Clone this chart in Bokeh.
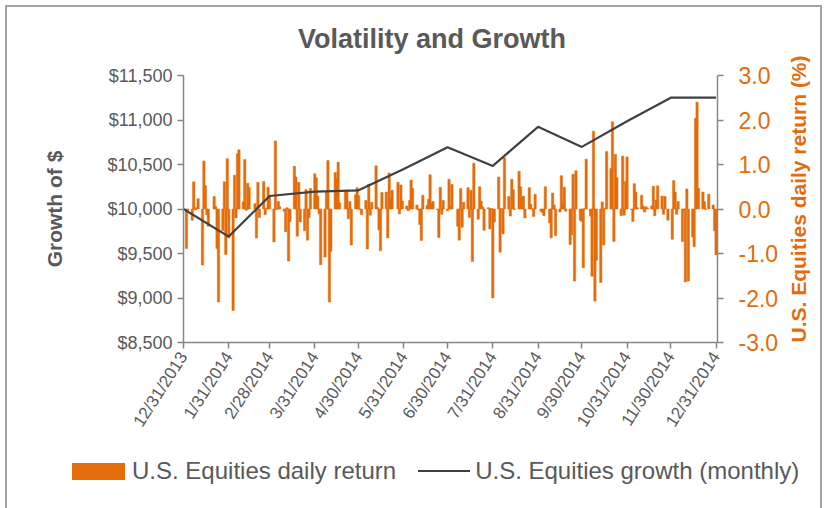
import math
import pandas as pd
from bokeh.plotting import figure
from bokeh.layouts import column
from bokeh.models import (Range1d, LinearAxis, FixedTicker, NumeralTickFormatter,
                          ColumnDataSource, Div)
from bokeh.embed import file_html
from bokeh.resources import INLINE

# ---------------- data ----------------
days_jan = [2, 3, 6, 7, 8, 9, 10, 13, 14, 15, 16, 17, 21, 22, 23, 24, 27, 28, 29, 30, 31]
ret_jan = [-0.89, -0.03, -0.25, 0.61, -0.02, 0.03, 0.23, -1.26, 1.08, 0.52, -0.13, -0.39,
           0.28, 0.06, -0.89, -2.09, -0.49, 0.61, -1.02, 1.13, -0.65]
days_feb = [3, 4, 5, 6, 7, 10, 11, 12, 13, 14, 18, 19, 20, 21, 24, 25, 26, 27, 28]
ret_feb = [-2.28, 0.76, -0.20, 1.24, 1.33, 0.16, 1.11, -0.03, 0.58, 0.48, 0.12, -0.65,
           0.60, -0.19, 0.62, -0.13, 0.01, 0.49, 0.28]
days_mar = [3, 4, 5, 6, 7, 10, 11, 12, 13, 14, 17, 18, 19, 20, 21, 24, 25, 26, 27, 28, 31]
ret_mar = [-0.74, 1.53, -0.01, 0.17, 0.05, -0.05, -0.51, 0.03, -1.17, -0.28, 0.96, 0.72,
           -0.61, 0.60, -0.29, -0.49, 0.44, -0.70, -0.19, 0.46, 0.79]
days_apr = [1, 2, 3, 4, 7, 8, 9, 10, 11, 14, 15, 16, 17, 21, 22, 23, 24, 25, 28, 29, 30]
ret_apr = [0.70, 0.29, -0.11, -1.25, -1.08, 0.38, 1.09, -2.09, -0.95, 0.82, 0.68, 1.05,
           0.14, 0.38, 0.41, -0.22, 0.17, -0.81, 0.32, 0.48, 0.30]
days_may = [1, 2, 5, 6, 7, 8, 9, 12, 13, 14, 15, 16, 19, 20, 21, 22, 23, 27, 28, 29, 30]
ret_may = [-0.01, -0.13, 0.19, -0.90, 0.56, -0.14, 0.15, 0.97, 0.04, -0.47, -0.94, 0.37,
           0.38, -0.65, 0.81, 0.24, 0.42, 0.60, -0.11, 0.54, 0.18]
days_jun = [2, 3, 4, 5, 6, 9, 10, 11, 12, 13, 16, 17, 18, 19, 20, 23, 24, 25, 26, 27, 30]
ret_jun = [0.07, -0.04, 0.19, 0.65, 0.46, 0.09, -0.02, -0.35, -0.71, 0.31, 0.08, 0.22,
           0.77, 0.13, 0.17, -0.01, -0.64, 0.49, -0.12, 0.19, -0.04]
days_jul = [1, 2, 3, 7, 8, 9, 10, 11, 14, 15, 16, 17, 18, 21, 22, 23, 24, 25, 28, 29, 30, 31]
ret_jul = [0.67, 0.07, 0.55, -0.39, -0.70, 0.46, -0.41, 0.15, 0.48, -0.19, 0.42, -1.18,
           1.03, -0.23, 0.50, 0.18, 0.05, -0.48, 0.03, -0.45, 0.01, -2.00]
days_aug = [1, 4, 5, 6, 7, 8, 11, 12, 13, 14, 15, 18, 19, 20, 21, 22, 25, 26, 27, 28, 29]
ret_aug = [-0.29, 0.72, -0.97, 0.01, -0.56, 1.15, 0.28, -0.16, 0.67, 0.43, -0.01, 0.85,
           0.50, 0.25, 0.29, -0.20, 0.48, 0.11, 0.01, -0.17, 0.33]
days_sep = [2, 3, 4, 5, 8, 9, 10, 11, 12, 15, 16, 17, 18, 19, 22, 23, 24, 25, 26, 29, 30]
ret_sep = [-0.05, -0.08, -0.15, 0.50, -0.31, -0.65, 0.36, 0.09, -0.60, -0.07, 0.75, 0.13,
           0.49, -0.05, -0.80, -0.58, 0.78, -1.62, 0.86, -0.25, -0.28]
days_oct = [1, 2, 3, 6, 7, 8, 9, 10, 13, 14, 15, 16, 17, 20, 21, 22, 23, 24, 27, 28, 29, 30, 31]
ret_oct = [-1.32, 0.01, 1.12, -0.16, -1.51, 1.75, -2.07, -1.15, -1.65, 0.16, -0.81, 0.01,
           1.29, 0.91, 1.96, -0.73, 1.23, 0.71, -0.15, 1.19, -0.14, 0.62, 1.17]
days_nov = [3, 4, 5, 6, 7, 10, 11, 12, 13, 14, 17, 18, 19, 20, 21, 24, 25, 26, 28]
ret_nov = [-0.01, -0.28, 0.57, 0.38, 0.03, 0.31, 0.07, -0.07, 0.05, 0.02, 0.07, 0.51,
           -0.15, 0.20, 0.52, 0.29, -0.12, 0.28, -0.25]
days_dec = [1, 2, 3, 4, 5, 8, 9, 10, 11, 12, 15, 16, 17, 18, 19, 22, 23, 24, 26, 29, 30, 31]
ret_dec = [-0.68, 0.64, 0.38, -0.12, 0.17, -0.73, -0.02, -1.64, 0.45, -1.62, -0.63, -0.85,
           2.04, 2.40, 0.46, 0.38, 0.17, -0.01, 0.33, 0.09, -0.49, -1.03]

month_end_labels = ["12/31/2013", "1/31/2014", "2/28/2014", "3/31/2014", "4/30/2014",
                    "5/31/2014", "6/30/2014", "7/31/2014", "8/31/2014", "9/30/2014",
                    "10/31/2014", "11/30/2014", "12/31/2014"]
growth_monthly = [10000, 9690, 10146, 10195, 10210, 10450, 10694, 10484, 10923, 10698,
                  10986, 11251, 11251]

growth_ticks = [8500, 9000, 9500, 10000, 10500, 11000, 11500]
return_ticks = [-3, -2, -1, 0, 1, 2, 3]

chart_title = "Volatility and Growth"
series_labels = ["U.S. Equities daily return", "U.S. Equities growth (monthly)"]

# ---------------- build ----------------
ORANGE = "#E46C0A"
GREY_TXT = "#595959"
AXIS_GREY = "#868686"
LINE_COL = "#404040"
FONT = "Liberation Sans"
BORDER = "2px solid #a3a3a3"

base = pd.Timestamp("2013-12-31")
months = [(1, days_jan, ret_jan), (2, days_feb, ret_feb), (3, days_mar, ret_mar),
          (4, days_apr, ret_apr), (5, days_may, ret_may), (6, days_jun, ret_jun),
          (7, days_jul, ret_jul), (8, days_aug, ret_aug), (9, days_sep, ret_sep),
          (10, days_oct, ret_oct), (11, days_nov, ret_nov), (12, days_dec, ret_dec)]
bx, by = [], []
for m, ds, rs in months:
    for d, r in zip(ds, rs):
        bx.append((pd.Timestamp(2014, m, d) - base).days)
        by.append(r)

me_x = [(pd.to_datetime(s, format="%m/%d/%Y") - base).days for s in month_end_labels]

# title strip
title_html = (
    f'<div style="padding:16px 0 0 291px;font-family:\'{FONT}\';font-size:27px;'
    f'font-weight:bold;line-height:32px;color:{GREY_TXT};white-space:nowrap;">'
    f'{chart_title}</div>'
)
title_div = Div(text=title_html, width=817, height=50, margin=0,
                styles={"border-top": BORDER, "border-left": BORDER,
                        "border-right": BORDER})

p = figure(width=817, height=397, output_backend="svg", toolbar_location=None,
           x_range=Range1d(0, 366), y_range=Range1d(8500, 11500),
           min_border_left=176, min_border_right=102, min_border_top=20,
           min_border_bottom=110)
p.styles = {"border-left": BORDER, "border-right": BORDER}
p.extra_y_ranges = {"ret": Range1d(-3, 3)}
p.outline_line_color = None
p.xgrid.visible = False
p.ygrid.visible = False
p.title.visible = False

src = ColumnDataSource(dict(x=bx, top=by))
p.vbar(x="x", top="top", bottom=0, width=1.6, source=src, y_range_name="ret",
       fill_color=ORANGE, line_color=ORANGE, line_width=0.5)
p.line(me_x, growth_monthly, line_color=LINE_COL, line_width=2.2)

# left axis
ya = p.yaxis[0]
ya.ticker = FixedTicker(ticks=growth_ticks)
ya.formatter = NumeralTickFormatter(format="$0,0")
ya.axis_label = "Growth of $"
ya.axis_label_text_font = FONT
ya.axis_label_text_font_size = "21px"
ya.axis_label_text_font_style = "bold"
ya.axis_label_text_color = GREY_TXT
ya.axis_label_standoff = 38
ya.major_label_text_font = FONT
ya.major_label_text_font_size = "18px"
ya.major_label_text_color = GREY_TXT

# right axis
ra = LinearAxis(y_range_name="ret", ticker=FixedTicker(ticks=return_ticks),
                formatter=NumeralTickFormatter(format="0.0"))
ra.axis_label = "U.S. Equities daily return (%)"
ra.axis_label_text_font = FONT
ra.axis_label_text_font_size = "21px"
ra.axis_label_text_font_style = "bold"
ra.axis_label_text_color = ORANGE
ra.axis_label_orientation = math.pi / 2
ra.axis_label_align = "start"
ra.axis_label_standoff = 17
ra.major_label_standoff = 15
ra.major_label_text_font = FONT
ra.major_label_text_font_size = "23px"
ra.major_label_text_color = ORANGE
p.add_layout(ra, "right")

# x axis
xa = p.xaxis[0]
xa.ticker = FixedTicker(ticks=me_x)
xa.major_label_overrides = {k: v for k, v in zip(me_x, month_end_labels)}
xa.major_label_orientation = 1.0
xa.major_label_text_font = FONT
xa.major_label_text_font_size = "17px"
xa.major_label_text_color = GREY_TXT

for ax in (xa, ya, ra):
    ax.axis_line_color = AXIS_GREY
    ax.axis_line_width = 1.5
    ax.major_tick_line_color = AXIS_GREY
    ax.major_tick_line_width = 1.5
    ax.major_tick_out = 6
    ax.major_tick_in = 0
    ax.minor_tick_line_color = None

# legend strip below the chart
legend_html = (
    f'<div style="padding:5px 0 0 65px;font-family:\'{FONT}\';font-size:24px;'
    f'color:{GREY_TXT};white-space:nowrap;">'
    '<div style="display:flex;align-items:center;height:28px;">'
    f'<span style="display:inline-block;width:53px;height:17px;background:{ORANGE};"></span>'
    f'<span style="margin-left:7px;">{series_labels[0]}</span>'
    f'<span style="display:inline-block;width:52px;height:0;border-top:2px solid {LINE_COL};'
    'margin-left:22px;"></span>'
    f'<span style="margin-left:5px;">{series_labels[1]}</span>'
    '</div></div>'
)
leg = Div(text=legend_html, width=817, height=56, margin=0,
          styles={"border-left": BORDER, "border-right": BORDER})

layout = column(title_div, p, leg, spacing=0,
                styles={"margin-left": "5px", "margin-top": "5px"})

open("out.html", "w").write(file_html(layout, INLINE))
